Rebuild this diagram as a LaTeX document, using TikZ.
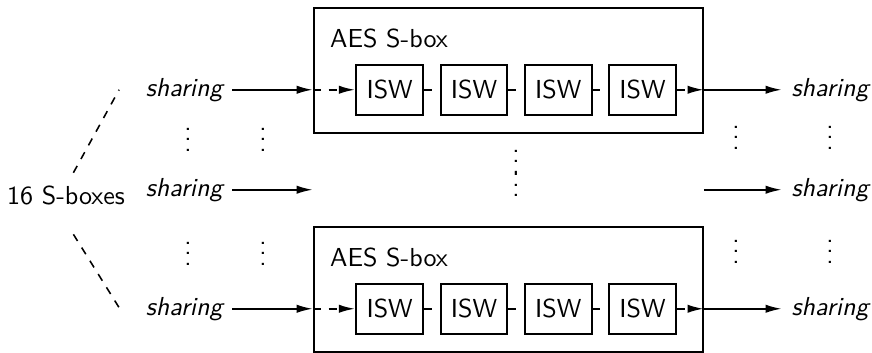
\documentclass[tikz,border=0pt]{standalone}
\usepackage{amsmath}
\usepackage{tikz}
\usetikzlibrary{arrows, arrows.meta, positioning}

\tikzset{
	sbox/.style={draw, minimum width=5.25cm, minimum height=1.69cm},
	isw/.style={draw, minimum width=0.9cm, minimum height=0.675cm},
	share/.style={font=\sffamily\itshape},
	arr/.style={-{Latex[length=6.3pt, width=3.2pt]}}
}

\begin{document}
\begin{tikzpicture}[x=0.0135cm, y=-0.0135cm, thick, every node/.append style={font=\sffamily}]

\useasboundingbox (0,0) rectangle (872,352);

% the two masked S-boxes
\node [sbox] (top) at (508.5,70.5) {};
\node [sbox] (bot) at (508.5,289.5) {};

\node [anchor=west] (toplbl) at ([xshift=0.1cm, yshift=-0.43cm]top.north west) {AES S-box};
\node [anchor=west] (botlbl) at ([xshift=0.1cm, yshift=-0.43cm]bot.north west) {AES S-box};

% ISW multiplications
\node [isw, right=0.57cm of top.west, yshift=-0.26cm] (t1) {ISW};
\node [isw, right=0.21cm of t1] (t2) {ISW};
\node [isw, right=0.21cm of t2] (t3) {ISW};
\node [isw, right=0.21cm of t3] (t4) {ISW};

\node [isw, right=0.57cm of bot.west, yshift=-0.26cm] (b1) {ISW};
\node [isw, right=0.21cm of b1] (b2) {ISW};
\node [isw, right=0.21cm of b2] (b3) {ISW};
\node [isw, right=0.21cm of b3] (b4) {ISW};

% input and output sharings
\node [share, left=1.66cm of t1] (in1) {sharing};
\node [share, right=1.42cm of t4] (out1) {sharing};
\node [share, left=1.66cm of b1] (in3) {sharing};
\node [share, right=1.42cm of b4] (out3) {sharing};
\node [share] (in2) at ([yshift=-1.35cm]in1) {sharing};
\node [share] (out2) at (out1 |- in2) {sharing};

\node (nbox) at (66,195) {16 S-boxes};

% dots
\foreach \x/\y/\n in {188/132/la, 263/132/lb, 188/246/lc, 263/246/ld,
                      736/130/ra, 830/130/rb, 736/244/rc, 830/244/rd,
                      516/154/ma, 516/177.5/mb}
	\node [inner sep=0pt] (\n) at (\x,\y) {$\vdots$};

% top row
\path [draw, arr] (in1) -- (in1 -| top.west);
\path [draw, dashed, arr] (in1 -| top.west) -- (t1);
\path [draw, dashed] (t1) -- (t2);
\path [draw, dashed] (t2) -- (t3);
\path [draw, dashed] (t3) -- (t4);
\path [draw, dashed, arr] (t4) -- (t4 -| top.east);
\path [draw, arr] (t4 -| top.east) -- (out1);

% middle row
\path [draw, arr] (in2) -- (in2 -| top.west);
\path [draw, arr] (in2 -| top.east) -- (out2);

% bottom row
\path [draw, arr] (in3) -- (in3 -| bot.west);
\path [draw, dashed, arr] (in3 -| bot.west) -- (b1);
\path [draw, dashed] (b1) -- (b2);
\path [draw, dashed] (b2) -- (b3);
\path [draw, dashed] (b3) -- (b4);
\path [draw, dashed, arr] (b4) -- (b4 -| bot.east);
\path [draw, arr] (b4 -| bot.east) -- (out3);

% brace-like dashed lines
\path [draw, dashed, semithick] ([xshift=0.1cm, yshift=0.04cm]nbox.north) -- ([xshift=-0.23cm]in1.west);
\path [draw, dashed, semithick] ([xshift=0.1cm, yshift=-0.27cm]nbox.south) -- ([xshift=-0.22cm]in3.west);

\end{tikzpicture}
\end{document}
